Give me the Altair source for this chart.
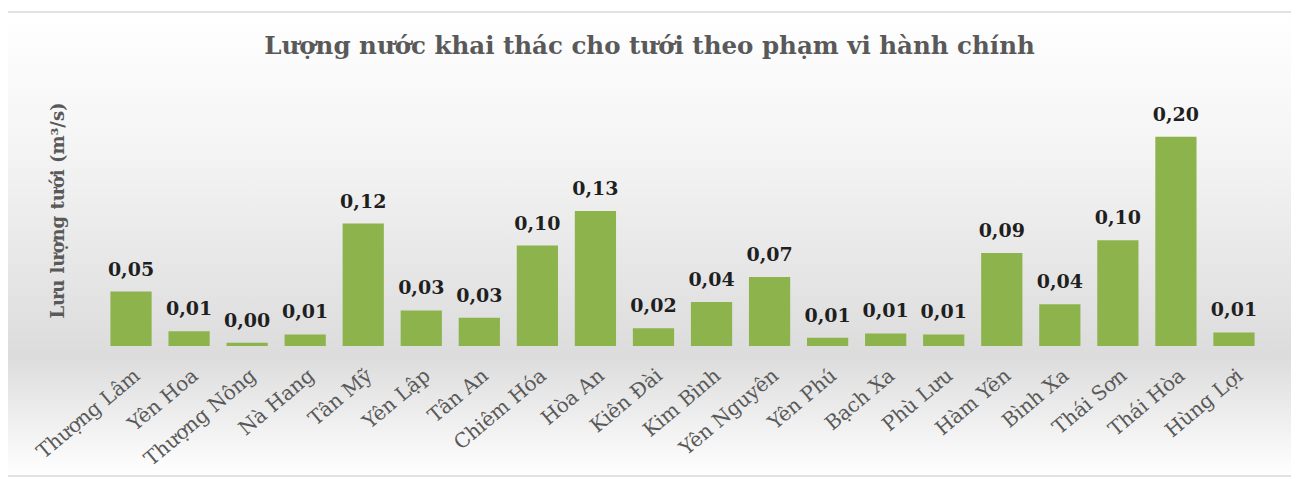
import altair as alt
import pandas as pd

communes = ["Thượng Lâm", "Yên Hoa", "Thượng Nông", "Nà Hang", "Tân Mỹ", "Yên Lập",
            "Tân An", "Chiêm Hóa", "Hòa An", "Kiên Đài", "Kim Bình", "Yên Nguyên",
            "Yên Phú", "Bạch Xa", "Phù Lưu", "Hàm Yên", "Bình Xa", "Thái Sơn",
            "Thái Hòa", "Hùng Lợi"]
flow = [0.052, 0.014, 0.003, 0.011, 0.117, 0.034, 0.027, 0.096, 0.129, 0.017,
        0.042, 0.066, 0.008, 0.012, 0.011, 0.089, 0.040, 0.101, 0.200, 0.013]

title_text = "Lượng nước khai thác cho tưới theo phạm vi hành chính"
y_title = "Lưu lượng tưới (m³/s)"

df = pd.DataFrame({"commune": communes, "flow": flow})

FONT = "DejaVu Serif"
GRAY = "#595959"

bg = alt.Chart(pd.DataFrame({"a": [0]})).mark_rect(
    fill=alt.Gradient(
        gradient="linear",
        stops=[
            alt.GradientStop(color="#ffffff", offset=0),
            alt.GradientStop(color="#f4f4f4", offset=0.3),
            alt.GradientStop(color="#dcdcdc", offset=0.74),
            alt.GradientStop(color="#ffffff", offset=1),
        ],
        x1=0, x2=0, y1=0, y2=1,
    ),
    stroke="#d9d9d9",
    strokeWidth=1.5,
).encode(
    x=alt.value(-96), x2=alt.value(1192), y=alt.value(-62), y2=alt.value(402)
)

base = alt.Chart(df).encode(
    x=alt.X("commune:N", sort=communes,
            scale=alt.Scale(paddingInner=0.29, paddingOuter=0.145),
            axis=alt.Axis(title=None, domain=False, ticks=False, labelAngle=-40,
                          labelFont=FONT, labelFontSize=20, labelColor=GRAY,
                          labelPadding=19, labelAlign="right", labelBaseline="top",
                          zindex=2)),
    y=alt.Y("flow:Q", scale=alt.Scale(domain=[0, 0.26]),
            axis=alt.Axis(title=y_title, labels=False, ticks=False, domain=False,
                          grid=False, titleFont=FONT, titleFontSize=18,
                          titleFontWeight="bold", titleColor=GRAY, titlePadding=35,
                          zindex=2)),
)

bars = base.mark_bar(color="#8db34c")
labels = base.transform_calculate(
    lbl="replace(format(datum.flow, '.2f'), '.', ',')"
).mark_text(baseline="alphabetic", dy=-16, font=FONT, fontSize=19,
            fontWeight="bold", color="#1f1f1f").encode(text="lbl:N")

chart = alt.layer(bg, bars, labels).properties(
    width=1161, height=272,
    autosize=alt.AutoSizeParams(type="none"),
    padding={"left": 94, "top": 66, "right": 28, "bottom": 135},
    title=alt.TitleParams(title_text, font=FONT, fontSize=24.5, fontWeight="bold",
                          color=GRAY, anchor="middle", dx=-33, offset=14, dy=62,
                          frame="group", zindex=2),
).configure_view(stroke=None).configure(background="#ffffff")

chart.save("out.html", embed_options={"renderer": "svg", "actions": False})
